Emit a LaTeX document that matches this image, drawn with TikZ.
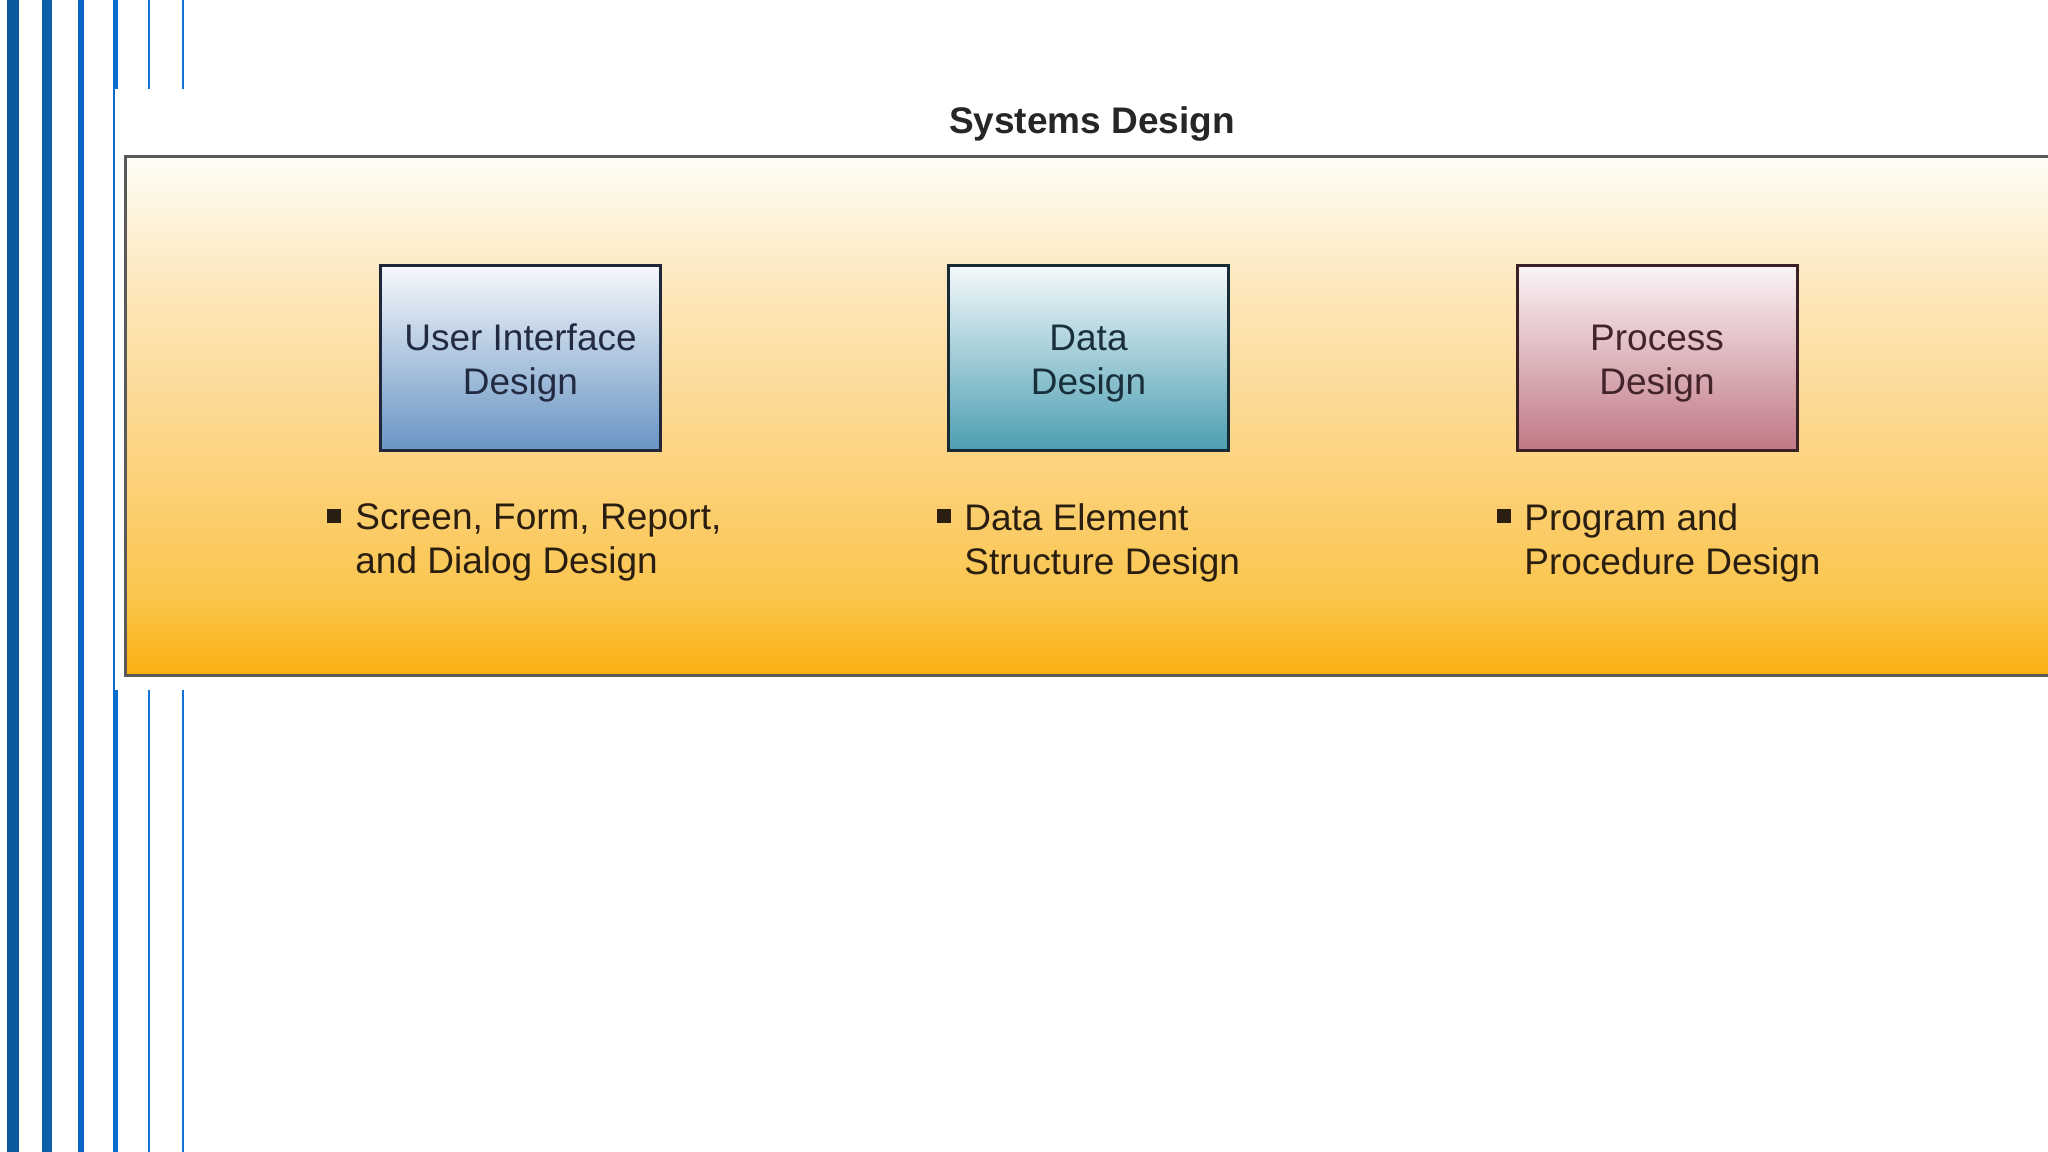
\documentclass[tikz,border=0pt]{standalone}
\usepackage{fontspec}
\setmainfont{Liberation Sans}
\definecolor{sA}{HTML}{0B5A9E}
\definecolor{sB}{HTML}{0D5FA8}
\definecolor{sC}{HTML}{0A66C2}
\definecolor{sD}{HTML}{0A6CCC}
\definecolor{sE}{HTML}{1272D2}
\definecolor{ob}{HTML}{F9B010}
\definecolor{om1}{HTML}{FBC650}
\definecolor{om2}{HTML}{FCD890}
\definecolor{om3}{HTML}{FDE8BE}
\definecolor{ot}{HTML}{FFFDF7}
\definecolor{uitop}{HTML}{F6F8FB}
\definecolor{uimid}{HTML}{B8CAE2}
\definecolor{uibot}{HTML}{6894C4}
\definecolor{datop}{HTML}{F4F9FB}
\definecolor{damid}{HTML}{A4CCD8}
\definecolor{dabot}{HTML}{4C9EB2}
\definecolor{prtop}{HTML}{FBF4F6}
\definecolor{prmid}{HTML}{DEB2BA}
\definecolor{prbot}{HTML}{C07884}
\definecolor{uitext}{HTML}{232B42}
\definecolor{datext}{HTML}{19303C}
\definecolor{prtext}{HTML}{42242A}
\definecolor{bultext}{HTML}{2A1E10}
\definecolor{panelline}{HTML}{5A5A5A}
\pgfdeclareverticalshading{orangeshade}{100bp}{color(0bp)=(ob); color(25bp)=(ob); color(33bp)=(om1); color(50bp)=(om2); color(63bp)=(om3); color(75bp)=(ot); color(100bp)=(ot)}
\begin{document}
\begin{tikzpicture}[x=0.5bp,y=-0.5bp,
  txt/.style={font=\fontsize{18.5bp}{22bp}\selectfont},
  designbox/.style={txt, draw, line width=1.5bp, minimum width=140bp, minimum height=92.5bp, align=center, inner sep=0pt},
  uibox/.style={designbox, draw=uitext!90!black, top color=uitop, middle color=uimid, bottom color=uibot, text=uitext},
  databox/.style={designbox, draw=datext!90!black, top color=datop, middle color=damid, bottom color=dabot, text=datext},
  procbox/.style={designbox, draw=prtext!90!black, top color=prtop, middle color=prmid, bottom color=prbot, text=prtext},
  bulletsq/.style={rectangle, fill=bultext, minimum size=7bp, inner sep=0pt},
  bullettext/.style={txt, anchor=west, align=left, inner sep=0pt, text=bultext},
  titletext/.style={font=\fontsize{18.5bp}{22bp}\selectfont\bfseries, text=black!85, anchor=base, inner sep=0pt}]
\useasboundingbox (0,0) rectangle (2048,1152);
\fill[white] (0,0) rectangle (2048,1152);
\clip (0,0) rectangle (2048,1152);
% stripes
\fill[sA] (7,0) rectangle (19,1152);
\fill[sB] (42,0) rectangle (51.7,1152);
\fill[sC] (78,0) rectangle (84.3,1152);
\fill[sD] (113,0) rectangle (117.6,89);
\fill[sD] (113,690) rectangle (117.6,1152);
\fill[sD] (113,89) rectangle (115,690);
\fill[sE] (148,0) rectangle (150.3,89);
\fill[sE] (148,690) rectangle (150.3,1152);
\fill[sE] (182.3,0) rectangle (184,89);
\fill[sE] (182.3,690) rectangle (184,1152);
% panel
\draw[draw=panelline, line width=1.5bp, shading=orangeshade] (125.5,157) rectangle (2090,675);
% title
\node[titletext] (title) at (1092,134) {Systems Design};
% boxes
\node[uibox] (ui) at (520.5,358) {\rule{0pt}{18.5bp}User Interface\\Design};
\node[databox] (data) at (1088.5,358) {\rule{0pt}{18.5bp}Data\\Design};
\node[procbox] (proc) at (1657,358) {\rule{0pt}{18.5bp}Process\\Design};
% bullets
\node[bulletsq] (b1) at (334,516) {};
\node[bullettext] (t1) at (355,542.5) {Screen, Form, Report,\\and Dialog Design};
\node[bulletsq] (b2) at (943.5,516) {};
\node[bullettext] (t2) at (964,542.5) {Data Element\\Structure Design};
\node[bulletsq] (b3) at (1504,516) {};
\node[bullettext] (t3) at (1524,542.5) {Program and\\Procedure Design};
\end{tikzpicture}
\end{document}
